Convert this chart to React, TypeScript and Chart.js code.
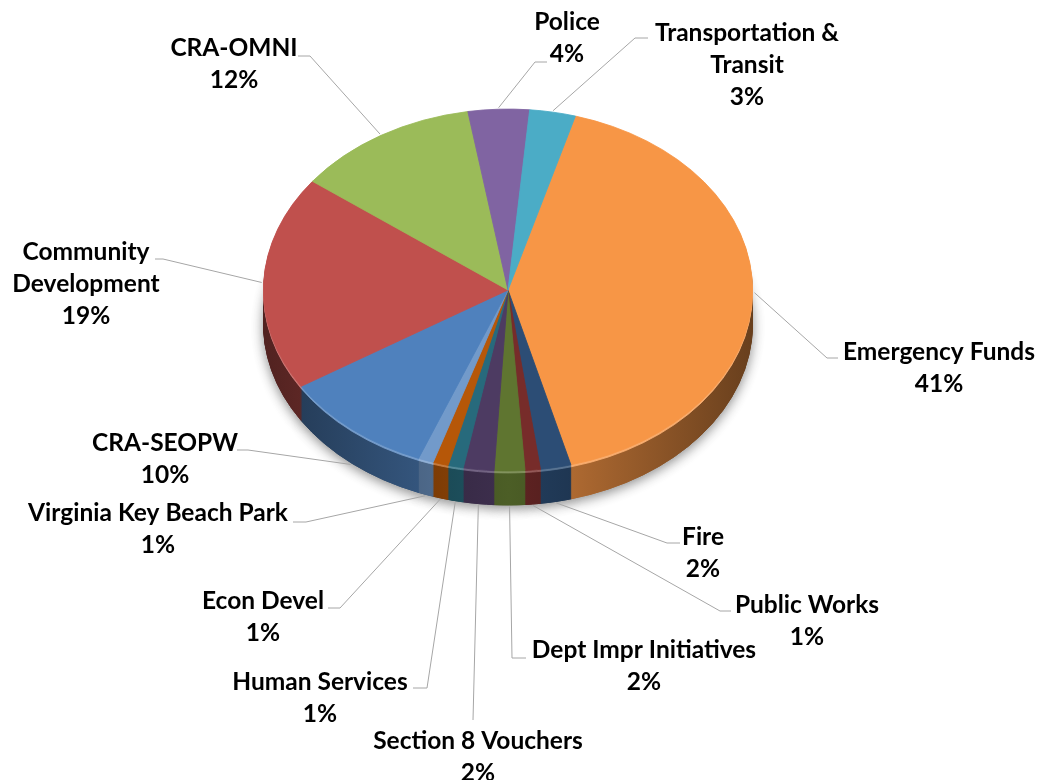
import React, { useEffect, useRef } from "react";
import { Chart, registerables } from "chart.js";

Chart.register(...registerables);

// ---------------- data ----------------
const categories = [
  "Emergency Funds",
  "Fire",
  "Public Works",
  "Dept Impr Initiatives",
  "Section 8 Vouchers",
  "Human Services",
  "Econ Devel",
  "Virginia Key Beach Park",
  "CRA-SEOPW",
  "Community Development",
  "CRA-OMNI",
  "Police",
  "Transportation & Transit",
];
const shares = [41, 2, 1, 2, 2, 1, 1, 1, 10, 19, 12, 4, 3];
const percentLabels = ["41%", "2%", "1%", "2%", "2%", "1%", "1%", "1%", "10%", "19%", "12%", "4%", "3%"];
const nameLines = [
  ["Emergency Funds"],
  ["Fire"],
  ["Public Works"],
  ["Dept Impr Initiatives"],
  ["Section 8 Vouchers"],
  ["Human Services"],
  ["Econ Devel"],
  ["Virginia Key Beach Park"],
  ["CRA-SEOPW"],
  ["Community", "Development"],
  ["CRA-OMNI"],
  ["Police"],
  ["Transportation &", "Transit"],
];
const sliceColors = [
  "#F79646",
  "#2C4D75",
  "#772C2A",
  "#5F7530",
  "#4D3B62",
  "#276A7C",
  "#B65708",
  "#729ACA",
  "#4F81BD",
  "#C0504D",
  "#9BBB59",
  "#8064A2",
  "#4BACC6",
];

// ---------------- layout / style ----------------
const W = 1038;
const H = 780;
const CX = 508;
const CY = 290;
const R = 245;
const K = 0.74; // vertical squash of the top face
const DEPTH = 34;
const ROTATION = 16;
const FONT = "bold 24.5px Lato";
const LINE_H = 32;
const LEADER = "#A6A6A6";

// label placement: text centre x, first line middle y, leader elbow and end
const labelLayout = [
  { x: 939, y: 352, elbow: [827, 358], end: [838, 358] },
  { x: 703, y: 537, elbow: [667, 543], end: [680, 543] },
  { x: 807, y: 605, elbow: [720, 611], end: [731, 611] },
  { x: 644, y: 650, elbow: [512, 658], end: [526, 658] },
  { x: 478, y: 741, elbow: [473, 720], end: null },
  { x: 320, y: 682, elbow: [427, 688], end: [413, 688] },
  { x: 263, y: 601, elbow: [340, 608], end: [328, 608] },
  { x: 158, y: 513, elbow: [306, 522], end: [293, 522] },
  { x: 165, y: 443, elbow: [248, 450], end: [237, 450] },
  { x: 86, y: 252, elbow: [163, 259], end: [155, 259] },
  { x: 234, y: 48, elbow: [310, 56], end: [298, 56] },
  { x: 567, y: 22, elbow: [535, 62], end: [547, 62] },
  { x: 747, y: 33, elbow: [635, 38], end: [648, 38] },
];

function rgb(hex: string): number[] {
  const n = parseInt(hex.slice(1), 16);
  return [(n >> 16) & 255, (n >> 8) & 255, n & 255];
}
function shade(hex: string, f: number): string {
  const [r, g, b] = rgb(hex);
  return `rgb(${Math.round(r * f)},${Math.round(g * f)},${Math.round(b * f)})`;
}
function tint(hex: string, t: number): string {
  const [r, g, b] = rgb(hex);
  const m = (v: number) => Math.round(v + (255 - v) * t);
  return `rgb(${m(r)},${m(g)},${m(b)})`;
}

function ellipse(ctx: CanvasRenderingContext2D) {
  ctx.translate(0, CY);
  ctx.scale(1, K);
  ctx.translate(0, -CY);
}

function recolor(a: any, color: any) {
  const c = Object.assign(Object.create(Object.getPrototypeOf(a)), a);
  c.options = { ...a.options, backgroundColor: color, borderColor: color };
  return c;
}

const pie3d = {
  id: "pie3d",
  beforeDatasetsDraw(chart: any) {
    const ctx: CanvasRenderingContext2D = chart.ctx;
    const arcs = chart.getDatasetMeta(0).data;
    const sides = arcs.map((a: any, i: number) => {
      const g = ctx.createLinearGradient(CX - R, 0, CX + R, 0);
      g.addColorStop(0, shade(sliceColors[i], 0.42));
      g.addColorStop(0.5, shade(sliceColors[i], 0.8));
      g.addColorStop(1, shade(sliceColors[i], 0.42));
      return recolor(a, g);
    });
    const rims = arcs.map((a: any, i: number) => recolor(a, tint(sliceColors[i], 0.22)));
    // soft shadow under the pie
    ctx.save();
    ctx.translate(0, DEPTH);
    ellipse(ctx);
    ctx.shadowColor = "rgba(0,0,0,0.45)";
    ctx.shadowBlur = 12;
    ctx.shadowOffsetY = 3;
    sides.forEach((s: any) => s.draw(ctx));
    ctx.restore();
    // side wall
    for (let d = DEPTH; d >= 1; d--) {
      ctx.save();
      ctx.translate(0, d);
      ellipse(ctx);
      (d <= 2 ? rims : sides).forEach((s: any) => s.draw(ctx));
      ctx.restore();
    }
    ctx.save();
    ellipse(ctx);
  },
  afterDatasetsDraw(chart: any) {
    const ctx: CanvasRenderingContext2D = chart.ctx;
    ctx.restore();
    const arcs = chart.getDatasetMeta(0).data;
    ctx.save();
    ctx.strokeStyle = LEADER;
    ctx.lineWidth = 1;
    arcs.forEach((a: any, i: number) => {
      const L = labelLayout[i];
      const mid = (a.startAngle + a.endAngle) / 2;
      const r = a.outerRadius + 2;
      const s = Math.sin(mid);
      const px = a.x + r * Math.cos(mid);
      let py = CY + (a.y - CY + r * s) * K;
      if (s > 0) py += DEPTH * Math.min(1, s * 3);
      ctx.beginPath();
      ctx.moveTo(px, py);
      ctx.lineTo(L.elbow[0], L.elbow[1]);
      if (L.end) ctx.lineTo(L.end[0], L.end[1]);
      ctx.stroke();
    });
    ctx.fillStyle = "#000";
    ctx.font = FONT;
    ctx.textAlign = "center";
    ctx.textBaseline = "middle";
    arcs.forEach((_a: any, i: number) => {
      const L = labelLayout[i];
      const lines = [...nameLines[i], percentLabels[i]];
      lines.forEach((t, j) => ctx.fillText(t, L.x, L.y + j * LINE_H));
    });
    ctx.restore();
  },
};

export default function App() {
  const ref = useRef<HTMLCanvasElement>(null);
  useEffect(() => {
    if (!ref.current) return;
    const chart = new Chart(ref.current, {
      type: "pie",
      data: {
        labels: categories,
        datasets: [
          {
            data: shares,
            backgroundColor: sliceColors,
            borderColor: sliceColors,
            borderWidth: 1,
            clip: false,
          } as any,
        ],
      },
      options: {
        responsive: false,
        animation: false,
        events: [],
        rotation: ROTATION,
        layout: {
          padding: { left: CX - R, right: W - (CX + R), top: CY - R, bottom: H - (CY + R) },
        },
        plugins: { legend: { display: false }, tooltip: { enabled: false } },
      },
      plugins: [pie3d],
    });
    return () => chart.destroy();
  }, []);
  return (
    <div style={{ position: "fixed", left: 0, top: 0, width: W, height: H, background: "#fff" }}>
      <canvas ref={ref} width={W} height={H} style={{ width: W, height: H }} />
    </div>
  );
}
